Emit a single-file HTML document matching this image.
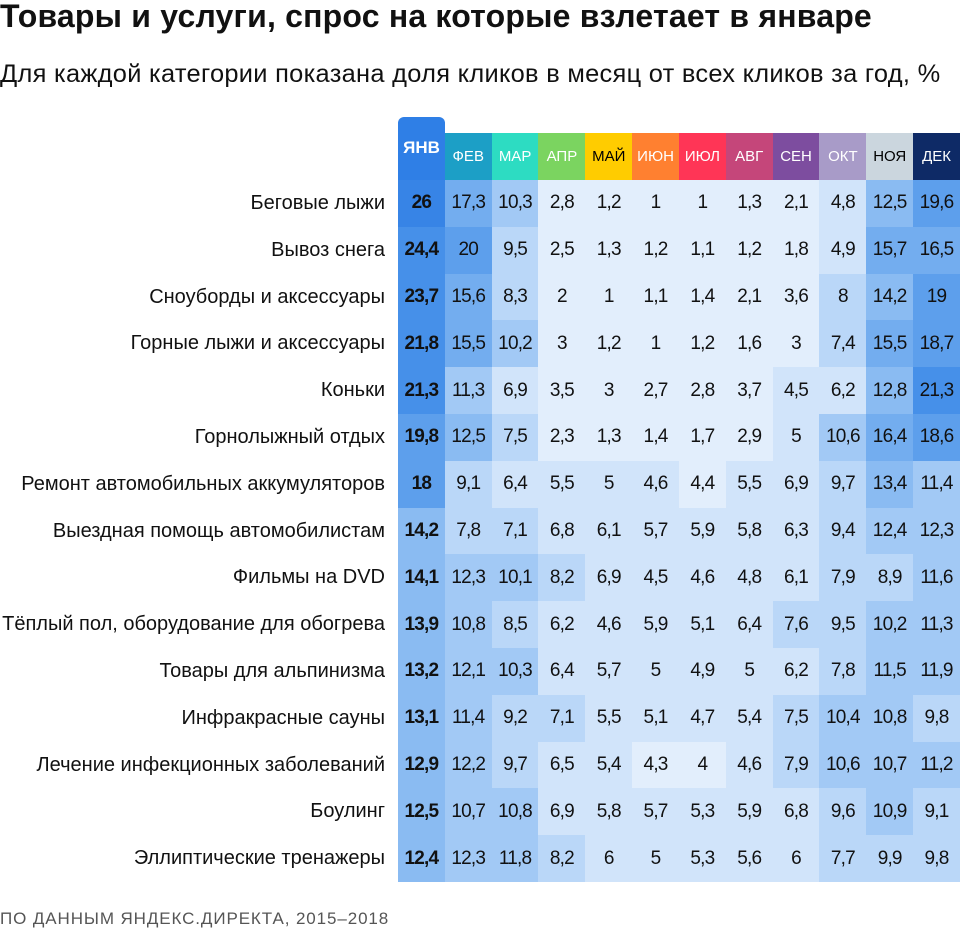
<!DOCTYPE html>
<html><head><meta charset="utf-8"><style>
body{margin:0;width:960px;height:931px;background:#fff;font-family:"Liberation Sans","DejaVu Sans",sans-serif;position:relative;overflow:hidden;color:#111}
.t{position:absolute;left:0;top:-2px;font-size:32px;font-weight:bold;white-space:nowrap;letter-spacing:.2px}
.s{position:absolute;left:0;top:60px;font-size:25.4px;white-space:nowrap;letter-spacing:.3px}
.f{position:absolute;left:0;top:909px;font-size:17px;color:#555;letter-spacing:.9px}
.hd{position:absolute;left:398px;top:133px;display:grid;grid-template-columns:repeat(12,46.83px);height:47px}
.hd div{font-size:15px;color:#fff;display:flex;align-items:center;justify-content:center;height:47px}
.jan{position:absolute;left:398px;top:117px;width:47px;height:70px;background:#2f7fe6;border-radius:6px 6px 0 0;color:#fff;font-weight:bold;font-size:17px;text-align:center;line-height:62px}
.g{position:absolute;left:398px;top:180px;display:grid;grid-template-columns:repeat(12,46.83px);grid-auto-rows:46.8px}
.g div{font-size:19px;display:flex;align-items:center;justify-content:center;letter-spacing:-.8px}
.g .j{font-weight:bold}
.a{background:#e2eefc}.b{background:#d1e4fa}.c{background:#bad7f8}.d{background:#a2c9f5}.e{background:#8abbf2}.f1{background:#73adef}.gg{background:#5d9fec}.h{background:#4690e9}
.lb{position:absolute;left:0;top:180px;width:385px}
.lb div{height:46.8px;line-height:46.8px;text-align:right;font-size:20px;white-space:nowrap}
</style></head><body>
<div class="t">Товары и услуги, спрос на которые взлетает в январе</div>
<div class="s">Для каждой категории показана доля кликов в месяц от всех кликов за год, %</div>
<div class="jan">ЯНВ</div>
<div class="hd">
<div style="background:transparent"></div>
<div style="background:#1c9fc6">ФЕВ</div>
<div style="background:#2ddcc2">МАР</div>
<div style="background:#7bd460">АПР</div>
<div style="background:#ffcc00;color:#000">МАЙ</div>
<div style="background:#ff8030">ИЮН</div>
<div style="background:#ff3556">ИЮЛ</div>
<div style="background:#c5467a">АВГ</div>
<div style="background:#7d4d9f">СЕН</div>
<div style="background:#a89bc8">ОКТ</div>
<div style="background:#cbd6de;color:#000">НОЯ</div>
<div style="background:#0e2a66">ДЕК</div>
</div>
<div class="lb">
<div>Беговые лыжи</div><div>Вывоз снега</div><div>Сноуборды и аксессуары</div><div>Горные лыжи и аксессуары</div><div>Коньки</div><div>Горнолыжный отдых</div><div>Ремонт автомобильных аккумуляторов</div><div>Выездная помощь автомобилистам</div><div>Фильмы на DVD</div><div>Тёплый пол, оборудование для обогрева</div><div>Товары для альпинизма</div><div>Инфракрасные сауны</div><div>Лечение инфекционных заболеваний</div><div>Боулинг</div><div>Эллиптические тренажеры</div>
</div>
<div class="g">
<div class="j h" style="background:#3784e6">26</div><div class="f1">17,3</div><div class="d">10,3</div><div class="a">2,8</div><div class="a">1,2</div><div class="a">1</div><div class="a">1</div><div class="a">1,3</div><div class="a">2,1</div><div class="b">4,8</div><div class="e">12,5</div><div class="gg">19,6</div>
<div class="j h">24,4</div><div class="gg">20</div><div class="c">9,5</div><div class="a">2,5</div><div class="a">1,3</div><div class="a">1,2</div><div class="a">1,1</div><div class="a">1,2</div><div class="a">1,8</div><div class="b">4,9</div><div class="f1">15,7</div><div class="f1">16,5</div>
<div class="j h">23,7</div><div class="f1">15,6</div><div class="c">8,3</div><div class="a">2</div><div class="a">1</div><div class="a">1,1</div><div class="a">1,4</div><div class="a">2,1</div><div class="a">3,6</div><div class="c">8</div><div class="e">14,2</div><div class="gg">19</div>
<div class="j h">21,8</div><div class="f1">15,5</div><div class="d">10,2</div><div class="a">3</div><div class="a">1,2</div><div class="a">1</div><div class="a">1,2</div><div class="a">1,6</div><div class="a">3</div><div class="c">7,4</div><div class="f1">15,5</div><div class="gg">18,7</div>
<div class="j h">21,3</div><div class="d">11,3</div><div class="b">6,9</div><div class="a">3,5</div><div class="a">3</div><div class="a">2,7</div><div class="a">2,8</div><div class="a">3,7</div><div class="b">4,5</div><div class="b">6,2</div><div class="e">12,8</div><div class="h">21,3</div>
<div class="j gg">19,8</div><div class="e">12,5</div><div class="c">7,5</div><div class="a">2,3</div><div class="a">1,3</div><div class="a">1,4</div><div class="a">1,7</div><div class="a">2,9</div><div class="b">5</div><div class="d">10,6</div><div class="f1">16,4</div><div class="gg">18,6</div>
<div class="j gg">18</div><div class="c">9,1</div><div class="b">6,4</div><div class="b">5,5</div><div class="b">5</div><div class="b">4,6</div><div class="a">4,4</div><div class="b">5,5</div><div class="b">6,9</div><div class="c">9,7</div><div class="e">13,4</div><div class="d">11,4</div>
<div class="j e">14,2</div><div class="c">7,8</div><div class="c">7,1</div><div class="b">6,8</div><div class="b">6,1</div><div class="b">5,7</div><div class="b">5,9</div><div class="b">5,8</div><div class="b">6,3</div><div class="c">9,4</div><div class="d">12,4</div><div class="d">12,3</div>
<div class="j e">14,1</div><div class="d">12,3</div><div class="d">10,1</div><div class="c">8,2</div><div class="b">6,9</div><div class="b">4,5</div><div class="b">4,6</div><div class="b">4,8</div><div class="b">6,1</div><div class="c">7,9</div><div class="c">8,9</div><div class="d">11,6</div>
<div class="j e">13,9</div><div class="d">10,8</div><div class="c">8,5</div><div class="b">6,2</div><div class="b">4,6</div><div class="b">5,9</div><div class="b">5,1</div><div class="b">6,4</div><div class="c">7,6</div><div class="c">9,5</div><div class="d">10,2</div><div class="d">11,3</div>
<div class="j e">13,2</div><div class="d">12,1</div><div class="d">10,3</div><div class="b">6,4</div><div class="b">5,7</div><div class="b">5</div><div class="b">4,9</div><div class="b">5</div><div class="b">6,2</div><div class="c">7,8</div><div class="d">11,5</div><div class="d">11,9</div>
<div class="j e">13,1</div><div class="d">11,4</div><div class="c">9,2</div><div class="c">7,1</div><div class="b">5,5</div><div class="b">5,1</div><div class="b">4,7</div><div class="b">5,4</div><div class="c">7,5</div><div class="d">10,4</div><div class="d">10,8</div><div class="c">9,8</div>
<div class="j e">12,9</div><div class="d">12,2</div><div class="c">9,7</div><div class="b">6,5</div><div class="b">5,4</div><div class="a">4,3</div><div class="a">4</div><div class="b">4,6</div><div class="c">7,9</div><div class="d">10,6</div><div class="d">10,7</div><div class="d">11,2</div>
<div class="j e">12,5</div><div class="d">10,7</div><div class="d">10,8</div><div class="b">6,9</div><div class="b">5,8</div><div class="b">5,7</div><div class="b">5,3</div><div class="b">5,9</div><div class="b">6,8</div><div class="c">9,6</div><div class="d">10,9</div><div class="c">9,1</div>
<div class="j e">12,4</div><div class="d">12,3</div><div class="d">11,8</div><div class="c">8,2</div><div class="b">6</div><div class="b">5</div><div class="b">5,3</div><div class="b">5,6</div><div class="b">6</div><div class="c">7,7</div><div class="c">9,9</div><div class="c">9,8</div>
</div>
<div class="f">ПО ДАННЫМ ЯНДЕКС.ДИРЕКТА, 2015–2018</div>
</body></html>
